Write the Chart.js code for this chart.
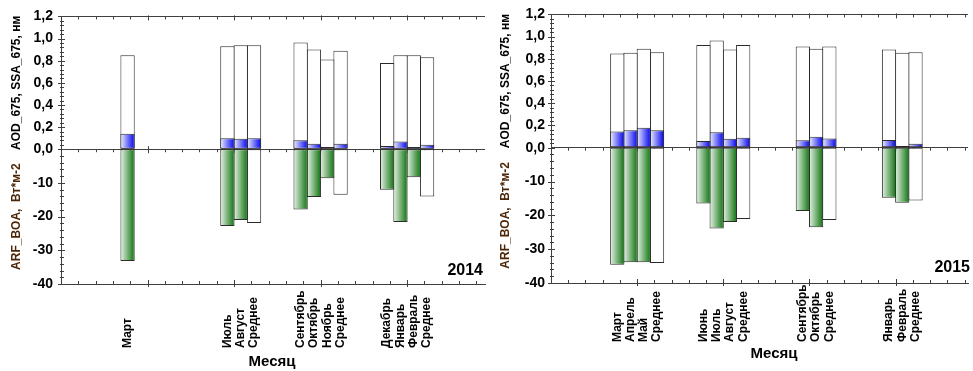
<!DOCTYPE html>
<html>
<head>
<meta charset="utf-8">
<script src="https://cdn.jsdelivr.net/npm/chart.js@4.4.1/dist/chart.umd.min.js"></script>
<style>
  html, body { margin: 0; padding: 0; background: #fff; }
  #wrap { display: flex; width: 973px; height: 371px; }
  canvas { display: block; }
</style>
</head>
<body>
<div id="wrap">
  <canvas id="c2014" width="486" height="371"></canvas>
  <canvas id="c2015" width="487" height="371"></canvas>
</div>
<script>
// Season groups on the x axis; each group holds four bar slots
const seasons = [1, 2, 3, 4];
const MEAN = 'Среднее';

// 2014: months per slot ('' = empty slot), AOD_675, SSA_675, ARF_BOA (Вт*м-2)
const months2014 = ['Март', '', '', '',
                    '', 'Июль', 'Август', 'Среднее',
                    'Сентябрь', 'Октябрь', 'Ноябрь', 'Среднее',
                    'Декабрь', 'Январь', 'Февраль', 'Среднее'];
const ssa2014 = [0.85, null, null, null,
                 null, 0.93, 0.94, 0.94,
                 0.965, 0.90, 0.81, 0.89,
                 0.78, 0.85, 0.85, 0.83];
const aod2014 = [0.14, null, null, null,
                 null, 0.10, 0.095, 0.10,
                 0.08, 0.05, 0.02, 0.05,
                 0.03, 0.07, 0.02, 0.04];
const arf2014 = [-33.2, null, null, null,
                 null, -22.8, -21.0, -21.9,
                 -17.9, -14.2, -8.6, -13.5,
                 -12.0, -21.6, -8.3, -14.0];

// 2015
const months2015 = ['Март', 'Апрель', 'Май', 'Среднее',
                    'Июнь', 'Июль', 'Август', 'Среднее',
                    '', 'Сентябрь', 'Октябрь', 'Среднее',
                    '', 'Январь', 'Февраль', 'Среднее'];
const ssa2015 = [0.847, 0.855, 0.89, 0.86,
                 0.925, 0.965, 0.885, 0.925,
                 null, 0.91, 0.89, 0.91,
                 null, 0.883, 0.855, 0.86];
const aod2015 = [0.146, 0.158, 0.18, 0.158,
                 0.06, 0.14, 0.08, 0.09,
                 null, 0.066, 0.098, 0.083,
                 null, 0.069, 0.015, 0.036];
const arf2015 = [-34.6, -33.9, -33.9, -34.1,
                 -16.5, -23.9, -22.0, -21.1,
                 null, -18.7, -23.5, -21.4,
                 null, -14.8, -16.3, -15.6];

const SLOTS = 4;
const AXIS = '#404040';
const EDGE = '#2b2b2b';
const BLUE = ['#eef0ff', '#0000ee'];
const GREEN = ['#e8f3e8', '#0c720c'];
const FONT = "'Liberation Sans', Arial, Helvetica, sans-serif";
Chart.defaults.font.family = FONT;

// Paints bar gradients, axis tick marks and the rotated month captions
const panelDecor = {
  id: 'panelDecor',
  beforeDatasetsDraw(chart) {
    const { ctx, chartArea: a, scales: { x, yTop, yBot } } = chart;
    // horizontal gradients on each bar
    chart.data.datasets.forEach((ds, di) => {
      if (!ds.gradient) return;
      chart.getDatasetMeta(di).data.forEach((bar, i) => {
        if (ds.plain && ds.plain[i]) return;
        const g = ctx.createLinearGradient(bar.x - bar.width / 2, 0, bar.x + bar.width / 2, 0);
        g.addColorStop(0, ds.gradient[0]);
        g.addColorStop(1, ds.gradient[1]);
        bar.options = Object.assign({}, bar.options, { backgroundColor: g });
      });
    });
    // tick marks
    ctx.save();
    ctx.strokeStyle = AXIS;
    ctx.lineWidth = 1;
    const vTick = (px, y0, y1) => {
      const xx = Math.round(px) + 0.5;
      ctx.beginPath(); ctx.moveTo(xx, y0); ctx.lineTo(xx, y1); ctx.stroke();
    };
    const hTick = (py, x0, x1) => {
      const yy = Math.round(py) + 0.5;
      ctx.beginPath(); ctx.moveTo(x0, yy); ctx.lineTo(x1, yy); ctx.stroke();
    };
    const zero = yTop.getPixelForValue(0);
    for (let i = 1; i * 0.2 <= x.max + 1e-9; i++) {
      const px = x.getPixelForValue(i * 0.2);
      const major = i % 5 === 0;
      vTick(px, a.top - (major ? 1 : 0), a.top + (major ? 4 : 3));
      vTick(px, zero - (major ? 3 : 0), zero + (major ? 4 : 3));
      vTick(px, a.bottom - (major ? 4 : 3), a.bottom + (major ? 3 : 0));
    }
    for (let i = 0; i <= 30; i++) {
      const major = i % 5 === 0;
      hTick(yTop.getPixelForValue(i * 0.04), a.left - (major ? 3 : 1), a.left + (major ? 4 : 3));
    }
    for (let i = 1; i <= 20; i++) {
      const major = i % 5 === 0;
      hTick(yBot.getPixelForValue(-i * 2), a.left - (major ? 3 : 1), a.left + (major ? 4 : 3));
    }
    ctx.restore();
  },
  afterDraw(chart, args, o) {
    const { ctx } = chart;
    ctx.save();
    ctx.fillStyle = '#000';
    // month names under each bar slot
    ctx.font = 'bold 12px ' + FONT;
    ctx.textAlign = 'left';
    ctx.textBaseline = 'middle';
    chart.data.datasets.forEach((ds, di) => {
      if (!ds.monthNames) return;
      chart.getDatasetMeta(di).data.forEach((bar, i) => {
        const name = ds.monthNames[i];
        if (!name) return;
        ctx.save();
        ctx.translate(bar.x, o.monthBase);
        ctx.rotate(-Math.PI / 2);
        ctx.fillText(name, 0, 0);
        ctx.restore();
      });
    });
    // x axis caption
    ctx.font = 'bold 15px ' + FONT;
    ctx.textAlign = 'center';
    ctx.fillText('Месяц', o.captionX, o.captionY);
    // year tag
    ctx.font = 'bold 16px ' + FONT;
    ctx.textAlign = 'right';
    ctx.fillText(o.year, o.yearX, o.yearY);
    ctx.restore();
  }
};

function makePanel(id, p) {
  const datasets = [];
  for (let k = 0; k < SLOTS; k++) {
    const pick = arr => arr.filter((_, i) => i % SLOTS === k);
    const names = pick(p.months);
    const isMean = names.map(n => n === MEAN);
    datasets.push({
      label: 'AOD_675', yAxisID: 'yTop', stack: 's' + k, data: pick(p.aod),
      backgroundColor: '#2020f0', borderColor: EDGE, gradient: BLUE
    });
    datasets.push({
      label: 'SSA_675', yAxisID: 'yTop', stack: 's' + k, data: pick(p.ssa),
      backgroundColor: '#ffffff', borderColor: EDGE
    });
    datasets.push({
      label: 'ARF_BOA', yAxisID: 'yBot', stack: 's' + k, data: pick(p.arf),
      backgroundColor: isMean.map(m => (m ? '#ffffff' : '#2a8a2a')),
      borderColor: EDGE, gradient: GREEN, plain: isMean, monthNames: names
    });
  }

  return new Chart(document.getElementById(id), {
    type: 'bar',
    data: { labels: seasons, datasets },
    plugins: [panelDecor],
    options: {
      responsive: false,
      devicePixelRatio: 1,
      animation: false,
      events: [],
      layout: { padding: { top: p.top, right: p.right, left: 0, bottom: 0 } },
      categoryPercentage: 8 / 13,
      barPercentage: 1.075,
      borderWidth: 1,
      borderSkipped: false,
      plugins: {
        legend: { display: false },
        tooltip: { enabled: false },
        panelDecor: {
          monthBase: p.monthBase, captionX: p.captionX, captionY: p.captionY,
          year: p.year, yearX: p.yearX, yearY: p.yearY
        }
      },
      scales: {
        x: {
          type: 'linear', position: 'bottom', min: 0, max: p.xMax, offset: false,
          afterBuildTicks: s => { s.ticks = seasons.map(v => ({ value: v })); },
          afterFit: s => { s.height = p.bottomBand; },
          ticks: { display: false },
          grid: { display: false, drawTicks: false, offset: false },
          border: { display: true, color: AXIS, width: 1 }
        },
        yTop: {
          type: 'linear', position: 'left', stack: 'left', stackWeight: 134, weight: 1,
          stacked: false, min: 0, max: 1.2,
          afterFit: s => { s.width = p.axisWidth; },
          ticks: {
            stepSize: 0.2, padding: p.labelGap, color: '#000', autoSkip: false,
            font: { size: 14, weight: 'bold' },
            callback: v => v.toFixed(1).replace('.', ',')
          },
          grid: {
            drawTicks: false, lineWidth: 1,
            color: c => (c.tick && (Math.abs(c.tick.value) < 1e-9 || Math.abs(c.tick.value - 1.2) < 1e-9)) ? AXIS : 'rgba(0,0,0,0)'
          },
          border: { display: true, color: AXIS, width: 1 },
          title: {
            display: true, text: 'AOD_675, SSA_675, нм', color: '#000',
            font: { size: 12, weight: 'bold' }, padding: { top: p.titleGap, bottom: 0 }
          }
        },
        yBot: {
          type: 'linear', position: 'left', stack: 'left', stackWeight: 136, weight: 0,
          stacked: false, min: -40, max: 0,
          afterFit: s => { s.width = p.axisWidth; },
          ticks: {
            stepSize: 10, padding: p.labelGap, color: '#000', autoSkip: false,
            font: { size: 14, weight: 'bold' },
            callback: v => (v === 0 ? '' : String(v))
          },
          grid: { display: false, drawTicks: false },
          border: { display: true, color: AXIS, width: 1 },
          title: {
            display: true, text: 'ARF_BOA,  Вт*м-2', color: '#4d2608',
            font: { size: 12, weight: 'bold' }, padding: { top: p.titleGap, bottom: 0 }
          }
        }
      }
    }
  });
}

makePanel('c2014', {
  months: months2014, ssa: ssa2014, aod: aod2014, arf: arf2014,
  top: 14, right: 1, bottomBand: 87, axisWidth: 61, labelGap: 8, titleGap: 9.5,
  xMax: 4.9, monthBase: 348, captionX: 272, captionY: 362,
  year: '2014', yearX: 483, yearY: 271
});

makePanel('c2015', {
  months: months2015, ssa: ssa2015, aod: aod2015, arf: arf2015,
  top: 13, right: 5, bottomBand: 88, axisWidth: 65, labelGap: 6, titleGap: 12.5,
  xMax: 4.84, monthBase: 342, captionX: 288, captionY: 354,
  year: '2015', yearX: 484, yearY: 268
});
</script>
</body>
</html>
